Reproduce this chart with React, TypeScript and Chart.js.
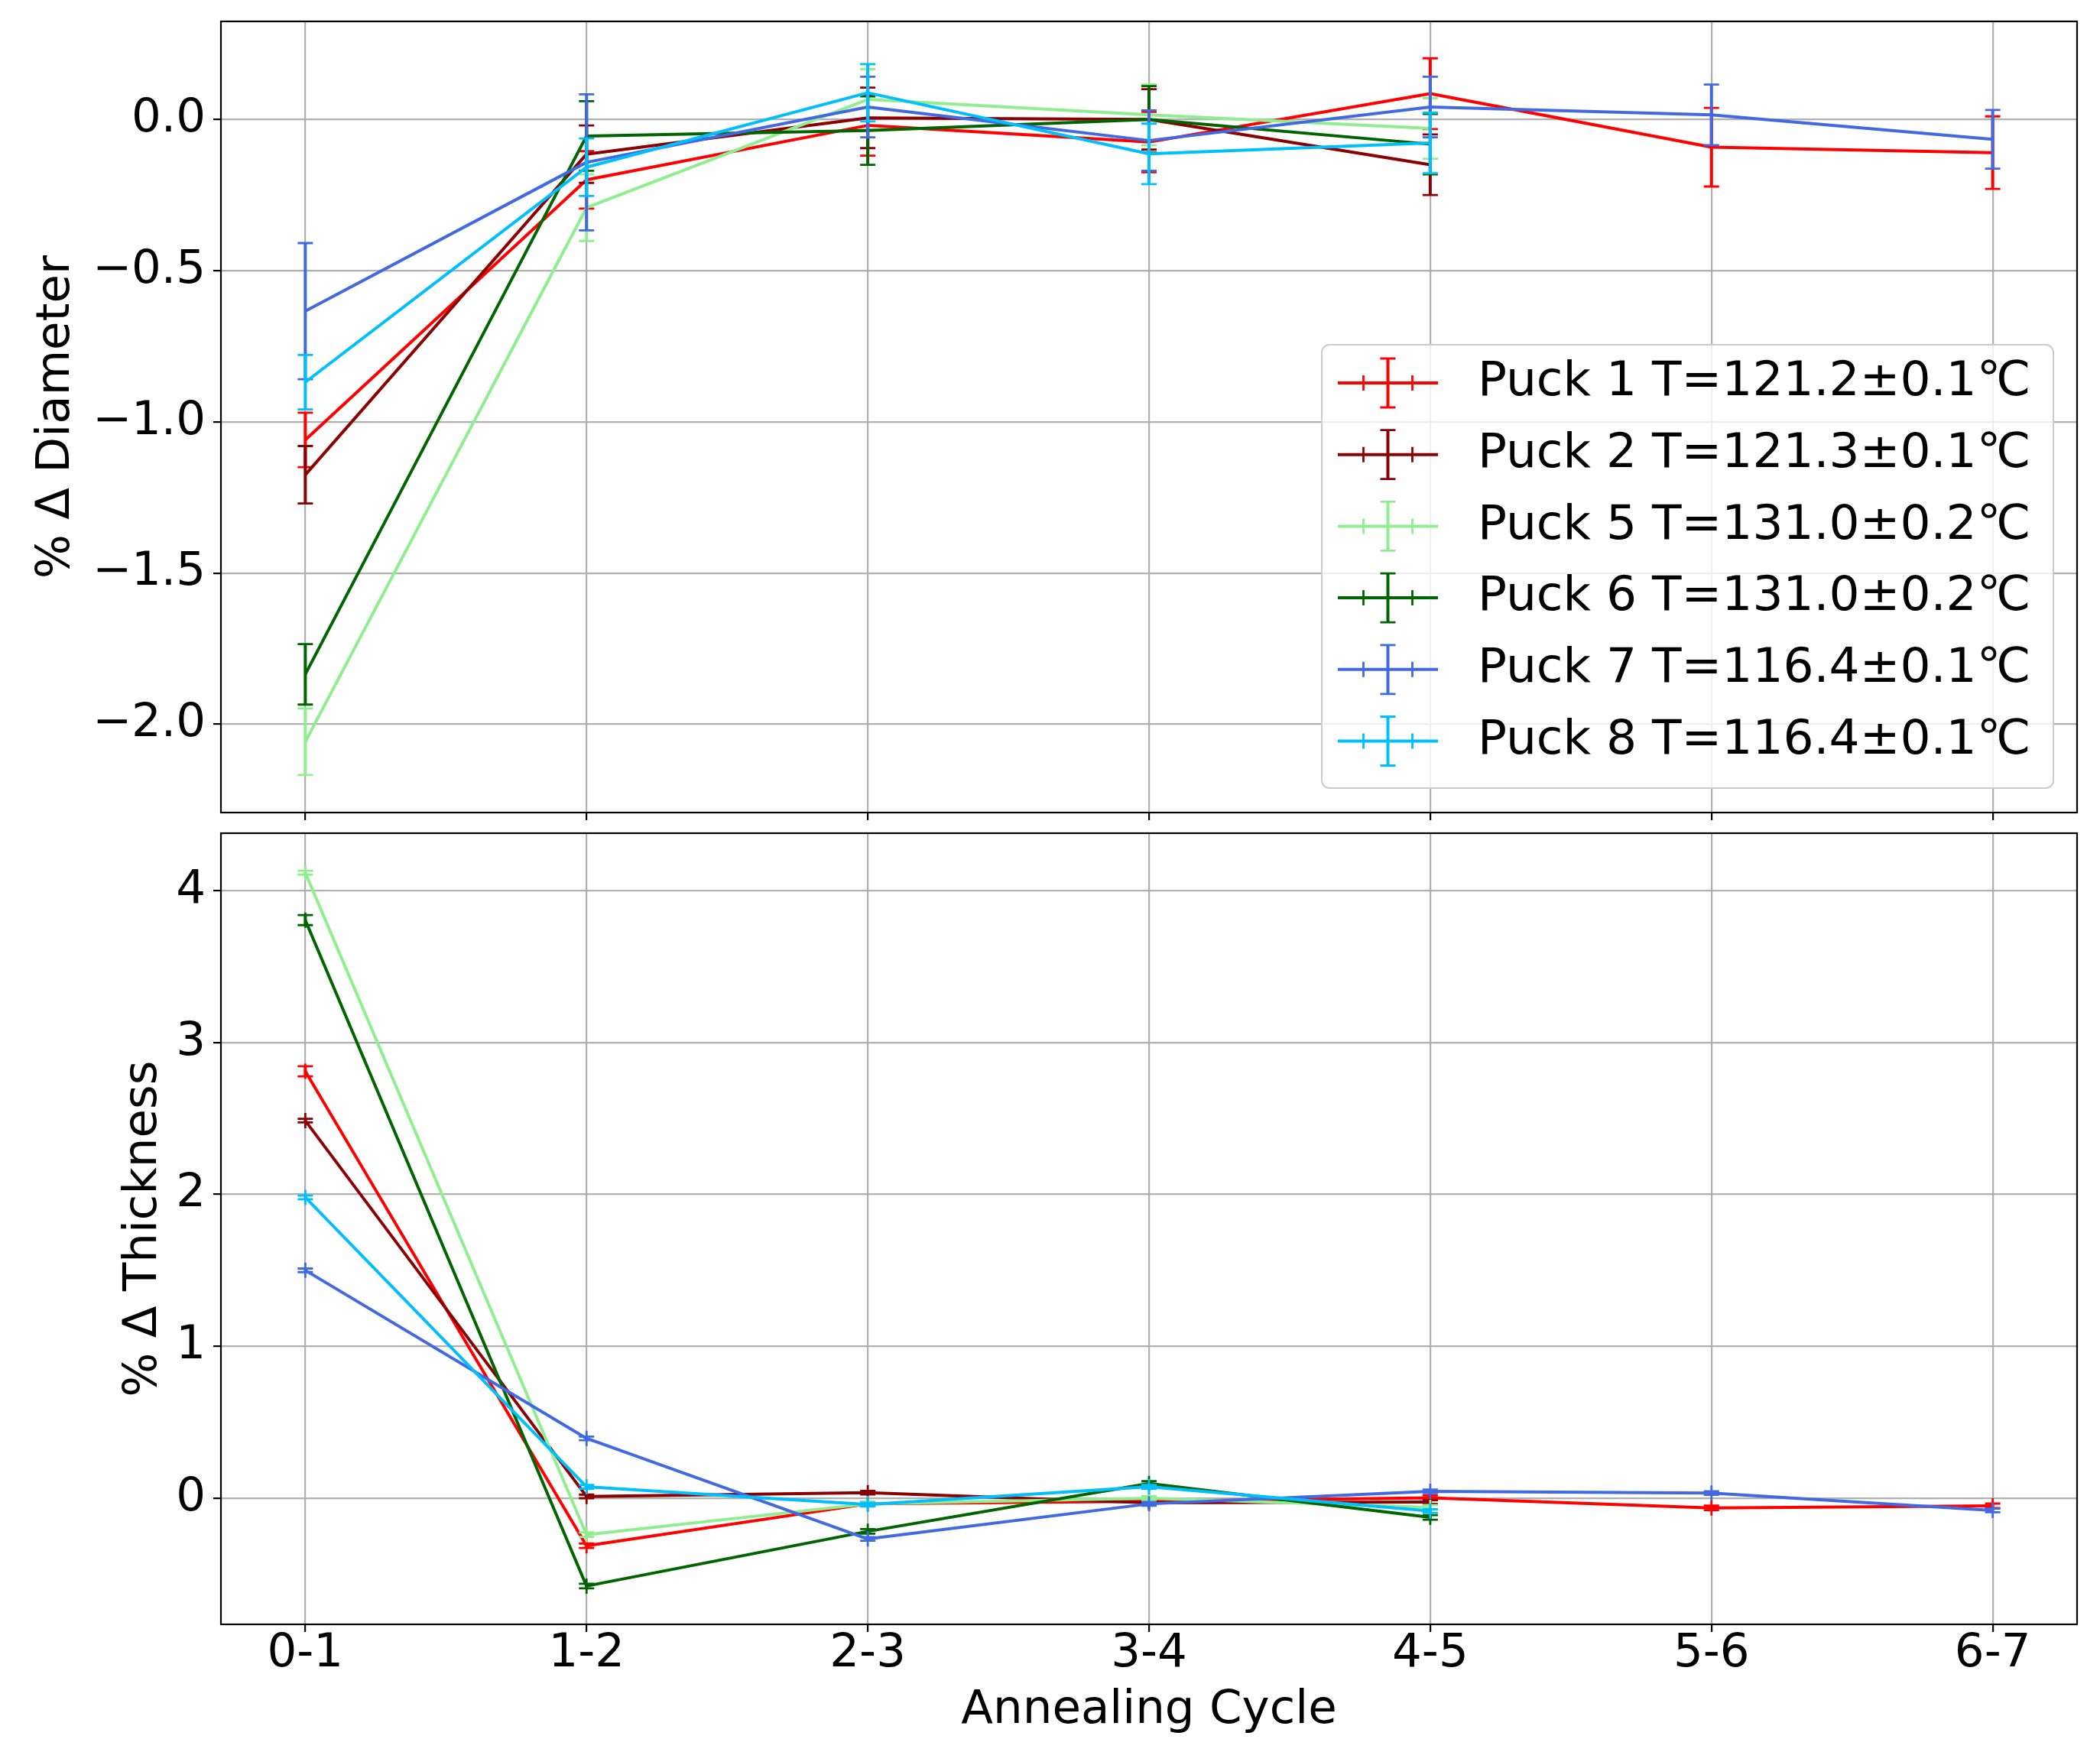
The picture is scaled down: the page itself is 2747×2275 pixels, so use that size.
import React, { useEffect, useRef } from "react";
import { Chart, registerables } from "chart.js";

Chart.register(...registerables);

// ---------------- data ----------------
const CATEGORIES = ["0-1", "1-2", "2-3", "3-4", "4-5", "5-6", "6-7"];
const X_TICKS = [0, 1, 2, 3, 4, 5, 6];

const PUCK_LABELS = [
  "Puck 1 T=121.2±0.1℃",
  "Puck 2 T=121.3±0.1℃",
  "Puck 5 T=131.0±0.2℃",
  "Puck 6 T=131.0±0.2℃",
  "Puck 7 T=116.4±0.1℃",
  "Puck 8 T=116.4±0.1℃",
];
const PUCK_COLORS = ["#ff0000", "#8b0000", "#90ee90", "#006400", "#4169e1", "#00bfff"];

// % change in diameter
const DIAM_P1 = [-1.06, -0.2, -0.02, -0.075, 0.085, -0.092, -0.11];
const DIAM_P2 = [-1.175, -0.115, 0.005, 0.0, -0.15];
const DIAM_P5 = [-2.058, -0.292, 0.066, 0.015, -0.03];
const DIAM_P6 = [-1.835, -0.055, -0.037, 0.0, -0.082];
const DIAM_P7 = [-0.634, -0.142, 0.041, -0.07, 0.041, 0.015, -0.066];
const DIAM_P8 = [-0.869, -0.158, 0.088, -0.114, -0.078];

const DIAM_ERR_P1 = [0.09, 0.095, 0.1, 0.1, 0.117, 0.13, 0.12];
const DIAM_ERR_P2 = [0.095, 0.095, 0.1, 0.1, 0.1];
const DIAM_ERR_P5 = [0.11, 0.11, 0.1, 0.1, 0.1];
const DIAM_ERR_P6 = [0.1, 0.115, 0.113, 0.11, 0.1];
const DIAM_ERR_P7 = [0.225, 0.225, 0.1, 0.1, 0.1, 0.1, 0.097];
const DIAM_ERR_P8 = [0.09, 0.095, 0.095, 0.1, 0.1];

// % change in thickness
const THICK_P1 = [2.81, -0.313, -0.037, -0.02, 0.003, -0.064, -0.05];
const THICK_P2 = [2.485, 0.012, 0.037, -0.03, -0.025];
const THICK_P5 = [4.117, -0.24, -0.037, 0.0, -0.06];
const THICK_P6 = [3.805, -0.578, -0.218, 0.097, -0.126];
const THICK_P7 = [1.5, 0.394, -0.268, -0.037, 0.045, 0.034, -0.08];
const THICK_P8 = [1.98, 0.075, -0.042, 0.075, -0.084];

const THICK_ERR_P1 = [0.033, 0.015, 0.015, 0.015, 0.015, 0.015, 0.015];
const THICK_ERR_P2 = [0.012, 0.012, 0.012, 0.012, 0.012];
const THICK_ERR_P5 = [0.013, 0.015, 0.015, 0.015, 0.015];
const THICK_ERR_P6 = [0.033, 0.015, 0.015, 0.015, 0.015];
const THICK_ERR_P7 = [0.012, 0.012, 0.012, 0.012, 0.012, 0.012, 0.012];
const THICK_ERR_P8 = [0.012, 0.012, 0.012, 0.012, 0.012];

const DIAM_TICKS = [-2.0, -1.5, -1.0, -0.5, 0.0];
const THICK_TICKS = [0, 1, 2, 3, 4];

const DIAM_RANGE = [-2.292, 0.324];
const THICK_RANGE = [-0.83, 4.377];
const X_RANGE = [-0.3, 6.3];

// ---------------- styling ----------------
const FONT = "DejaVu Sans";
const FS = 61;
const LEGEND_FS = 63;
const W = 2747;
const TOP_H = 1076;
const BOT_H = 1199;
const GRID_COLOR = "#b0b0b0";
const LINE_W = 4;
const CAP_W = 2.8;
const CAP_HALF = 10;

function buildDatasets(values: number[][], errs: number[][]) {
  return values.map((vals, i) => ({
    label: PUCK_LABELS[i],
    data: vals.map((v, j) => ({ x: j, y: v })),
    yErr: errs[i],
    borderColor: PUCK_COLORS[i],
    backgroundColor: PUCK_COLORS[i],
    borderWidth: LINE_W,
    pointRadius: 0,
    tension: 0,
    borderJoinStyle: "round",
    order: values.length - i,
  }));
}

const errorBarPlugin = {
  id: "errorBars",
  afterDatasetDraw(chart: any, args: any) {
    const ds = chart.data.datasets[args.index];
    const errs = ds.yErr;
    if (!errs) return;
    const ctx = chart.ctx;
    const area = chart.chartArea;
    const ys = chart.scales.y;
    ctx.save();
    ctx.beginPath();
    ctx.rect(area.left, area.top, area.right - area.left, area.bottom - area.top);
    ctx.clip();
    ctx.strokeStyle = ds.borderColor;
    args.meta.data.forEach((pt: any, i: number) => {
      const v = ds.data[i].y;
      const e = errs[i];
      const x = pt.x;
      const y = pt.y;
      const yt = ys.getPixelForValue(v + e);
      const yb = ys.getPixelForValue(v - e);
      ctx.lineWidth = LINE_W;
      ctx.beginPath();
      ctx.moveTo(x, yt);
      ctx.lineTo(x, yb);
      ctx.stroke();
      ctx.lineWidth = CAP_W;
      ctx.beginPath();
      ctx.moveTo(x - CAP_HALF, yt);
      ctx.lineTo(x + CAP_HALF, yt);
      ctx.moveTo(x - CAP_HALF, yb);
      ctx.lineTo(x + CAP_HALF, yb);
      ctx.moveTo(x, y - CAP_HALF);
      ctx.lineTo(x, y + CAP_HALF);
      ctx.stroke();
    });
    ctx.restore();
  },
};

const framePlugin = {
  id: "frame",
  afterDraw(chart: any) {
    const { ctx, chartArea: a } = chart;
    ctx.save();
    ctx.strokeStyle = "#000";
    ctx.lineWidth = 2.2;
    ctx.strokeRect(a.left, a.top, a.right - a.left, a.bottom - a.top);
    ctx.restore();
  },
};

const legendPlugin = {
  id: "customLegend",
  afterDraw(chart: any) {
    const ctx = chart.ctx;
    const bx = 1729, by = 451, bw = 957, bh = 580, r = 10;
    ctx.save();
    ctx.beginPath();
    ctx.moveTo(bx + r, by);
    ctx.lineTo(bx + bw - r, by);
    ctx.arcTo(bx + bw, by, bx + bw, by + r, r);
    ctx.lineTo(bx + bw, by + bh - r);
    ctx.arcTo(bx + bw, by + bh, bx + bw - r, by + bh, r);
    ctx.lineTo(bx + r, by + bh);
    ctx.arcTo(bx, by + bh, bx, by + bh - r, r);
    ctx.lineTo(bx, by + r);
    ctx.arcTo(bx, by, bx + r, by, r);
    ctx.closePath();
    ctx.fillStyle = "rgba(255,255,255,0.8)";
    ctx.fill();
    ctx.strokeStyle = "#cccccc";
    ctx.lineWidth = 2;
    ctx.stroke();

    const y0 = 501, dy = 93.7;
    const hx0 = 1750, hx1 = 1881, hc = 1815.5;
    ctx.font = `${LEGEND_FS}px "${FONT}"`;
    ctx.textBaseline = "middle";
    ctx.textAlign = "left";
    PUCK_LABELS.forEach((lab, i) => {
      const y = y0 + i * dy;
      const col = PUCK_COLORS[i];
      ctx.strokeStyle = col;
      ctx.lineWidth = LINE_W;
      ctx.beginPath();
      ctx.moveTo(hx0, y);
      ctx.lineTo(hx1, y);
      ctx.moveTo(hc, y - 32);
      ctx.lineTo(hc, y + 32);
      ctx.stroke();
      ctx.lineWidth = CAP_W;
      ctx.beginPath();
      ctx.moveTo(hc - CAP_HALF, y - 32);
      ctx.lineTo(hc + CAP_HALF, y - 32);
      ctx.moveTo(hc - CAP_HALF, y + 32);
      ctx.lineTo(hc + CAP_HALF, y + 32);
      ctx.moveTo(hc - 32, y - CAP_HALF);
      ctx.lineTo(hc - 32, y + CAP_HALF);
      ctx.moveTo(hc + 32, y - CAP_HALF);
      ctx.lineTo(hc + 32, y + CAP_HALF);
      ctx.stroke();
      ctx.fillStyle = "#000";
      ctx.fillText(lab, 1933, y);
    });
    ctx.restore();
  },
};

function gridOpts() {
  return {
    color: GRID_COLOR,
    lineWidth: 2.2,
    tickColor: "#000",
    tickWidth: 2.2,
    tickLength: 10,
    drawTicks: true,
  };
}

function makeConfig(kind: "top" | "bottom") {
  const isTop = kind === "top";
  const datasets = isTop
    ? buildDatasets(
        [DIAM_P1, DIAM_P2, DIAM_P5, DIAM_P6, DIAM_P7, DIAM_P8],
        [DIAM_ERR_P1, DIAM_ERR_P2, DIAM_ERR_P5, DIAM_ERR_P6, DIAM_ERR_P7, DIAM_ERR_P8]
      )
    : buildDatasets(
        [THICK_P1, THICK_P2, THICK_P5, THICK_P6, THICK_P7, THICK_P8],
        [THICK_ERR_P1, THICK_ERR_P2, THICK_ERR_P5, THICK_ERR_P6, THICK_ERR_P7, THICK_ERR_P8]
      );
  const yTicks = isTop ? DIAM_TICKS : THICK_TICKS;
  const yRange = isTop ? DIAM_RANGE : THICK_RANGE;
  const xScaleHeight = isTop ? 13 : 150;
  return {
    type: "line",
    data: { datasets },
    plugins: isTop ? [errorBarPlugin, framePlugin, legendPlugin] : [errorBarPlugin, framePlugin],
    options: {
      responsive: false,
      maintainAspectRatio: false,
      devicePixelRatio: 1,
      animation: false,
      events: [],
      layout: { padding: { left: 0, right: 30, top: isTop ? 28 : 14, bottom: 0 } },
      plugins: { legend: { display: false }, tooltip: { enabled: false } },
      scales: {
        x: {
          type: "linear",
          min: X_RANGE[0],
          max: X_RANGE[1],
          afterBuildTicks: (s: any) => {
            s.ticks = X_TICKS.map((v) => ({ value: v }));
          },
          afterFit: (s: any) => {
            s.height = xScaleHeight;
            s.paddingLeft = 0;
            s.paddingRight = 0;
          },
          grid: gridOpts(),
          border: { display: false },
          ticks: {
            display: !isTop,
            autoSkip: false,
            maxRotation: 0,
            padding: -1,
            color: "#000",
            font: { family: FONT, size: FS, lineHeight: 1.0 },
            callback: (v: number) => CATEGORIES[Math.round(v)],
          },
          title: {
            display: !isTop,
            text: "Annealing Cycle",
            color: "#000",
            font: { family: FONT, size: FS, lineHeight: 1.2 },
            padding: { top: 0, bottom: 0 },
          },
        },
        y: {
          type: "linear",
          min: yRange[0],
          max: yRange[1],
          afterBuildTicks: (s: any) => {
            s.ticks = yTicks.map((v) => ({ value: v }));
          },
          afterFit: (s: any) => {
            s.width = 289;
            s.paddingTop = 0;
            s.paddingBottom = 0;
          },
          grid: gridOpts(),
          border: { display: false },
          ticks: {
            padding: 10,
            color: "#000",
            font: { family: FONT, size: FS, lineHeight: 1.2 },
            callback: (v: number) => {
              const s = isTop ? v.toFixed(1) : String(Math.round(v));
              return s.replace("-", "\u2212");
            },
          },
          title: {
            display: true,
            text: isTop ? "% Δ Diameter" : "% Δ Thickness",
            color: "#000",
            font: { family: FONT, size: FS, lineHeight: 1.2 },
            padding: { top: isTop ? 38 : 152, bottom: 0 },
          },
        },
      },
    },
  };
}

export default function App() {
  const topRef = useRef<HTMLCanvasElement | null>(null);
  const botRef = useRef<HTMLCanvasElement | null>(null);

  useEffect(() => {
    Chart.defaults.font.family = FONT;
    Chart.defaults.color = "#000";
    const c1 = new Chart(topRef.current as HTMLCanvasElement, makeConfig("top") as any);
    const c2 = new Chart(botRef.current as HTMLCanvasElement, makeConfig("bottom") as any);
    return () => {
      c1.destroy();
      c2.destroy();
    };
  }, []);

  return (
    <div
      style={{
        position: "absolute",
        left: 0,
        top: 0,
        width: W,
        height: TOP_H + BOT_H,
        background: "#fff",
        overflow: "hidden",
      }}
    >
      <canvas
        ref={topRef}
        width={W}
        height={TOP_H}
        style={{ position: "absolute", left: 0, top: 0, width: W, height: TOP_H }}
      />
      <canvas
        ref={botRef}
        width={W}
        height={BOT_H}
        style={{ position: "absolute", left: 0, top: TOP_H, width: W, height: BOT_H }}
      />
    </div>
  );
}
